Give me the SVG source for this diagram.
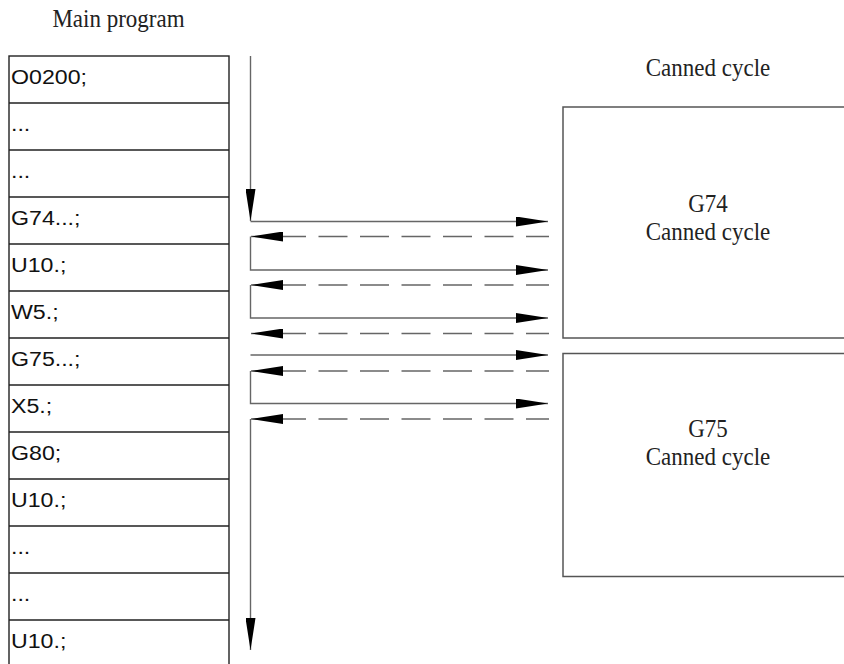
<svg xmlns="http://www.w3.org/2000/svg" width="844" height="664" viewBox="0 0 844 664">
<style>
.bg{fill:#ffffff}
.cell{fill:none;stroke:#222;stroke-width:1.4}
.box{fill:none;stroke:#555;stroke-width:1.5}
.ser{font-family:"Liberation Serif","Times New Roman",serif;font-size:25px;fill:#222;text-anchor:middle}
.code{font-family:"Liberation Sans",Arial,sans-serif;font-size:20.5px;fill:#111}
.ln{fill:none;stroke:#666;stroke-width:1.4}
.dash{stroke-dasharray:29 12.5;stroke-dashoffset:6}
</style>
<defs>
<marker id="ah" markerUnits="userSpaceOnUse" markerWidth="32" markerHeight="10" viewBox="0 0 32 10" refX="32" refY="5" orient="auto">
<path d="M0,0 L32,5 L0,10 Z" fill="#000" stroke="none"/>
</marker>
</defs>
<rect class="bg" x="0" y="0" width="844" height="664"/>
<text class="ser" transform="translate(118.5,26.5) scale(0.92,1)">Main program</text>
<text class="ser" transform="translate(708,76) scale(0.92,1)">Canned cycle</text>
<g id="main-program">
<rect class="cell" x="9" y="56" width="220" height="620"/>
<path class="cell" d="M9,103H229M9,150H229M9,197H229M9,244H229M9,291H229M9,338H229M9,385H229M9,432H229M9,479H229M9,526H229M9,573H229M9,620H229"/>
</g>
<g id="row-1"><text class="code" transform="translate(11,84) scale(1.13,1)">O0200;</text></g>
<g id="row-2"><text class="code" transform="translate(11,131) scale(1.13,1)">...</text></g>
<g id="row-3"><text class="code" transform="translate(11,178) scale(1.13,1)">...</text></g>
<g id="row-4"><text class="code" transform="translate(11,225) scale(1.13,1)">G74...;</text></g>
<g id="row-5"><text class="code" transform="translate(11,272) scale(1.13,1)">U10.;</text></g>
<g id="row-6"><text class="code" transform="translate(11,319) scale(1.13,1)">W5.;</text></g>
<g id="row-7"><text class="code" transform="translate(11,366) scale(1.13,1)">G75...;</text></g>
<g id="row-8"><text class="code" transform="translate(11,413) scale(1.13,1)">X5.;</text></g>
<g id="row-9"><text class="code" transform="translate(11,460) scale(1.13,1)">G80;</text></g>
<g id="row-10"><text class="code" transform="translate(11,507) scale(1.13,1)">U10.;</text></g>
<g id="row-11"><text class="code" transform="translate(11,554) scale(1.13,1)">...</text></g>
<g id="row-12"><text class="code" transform="translate(11,601) scale(1.13,1)">...</text></g>
<g id="row-13"><text class="code" transform="translate(11,648) scale(1.13,1)">U10.;</text></g>
<g id="g74-cycle">
<rect class="box" x="563" y="107" width="300" height="231"/>
<text class="ser" transform="translate(708,212) scale(0.92,1)">G74</text>
<text class="ser" transform="translate(708,240) scale(0.92,1)">Canned cycle</text>
</g>
<g id="g75-cycle">
<rect class="box" x="563" y="353.5" width="300" height="223"/>
<text class="ser" transform="translate(708,437) scale(0.92,1)">G75</text>
<text class="ser" transform="translate(708,465) scale(0.92,1)">Canned cycle</text>
</g>
<g id="connectors">
<path class="ln" d="M250.5,56V221" marker-end="url(#ah)"/>
<path class="ln" d="M250.5,221.5H548" marker-end="url(#ah)"/>
<path class="ln dash" d="M549,236.5H251" marker-end="url(#ah)"/>
<path class="ln" d="M250.5,236.5V270H548" marker-end="url(#ah)"/>
<path class="ln dash" d="M549,285H251" marker-end="url(#ah)"/>
<path class="ln" d="M250.5,285V318H548" marker-end="url(#ah)"/>
<path class="ln dash" d="M549,333.5H251" marker-end="url(#ah)"/>
<path class="ln" d="M250.5,355H548" marker-end="url(#ah)"/>
<path class="ln dash" d="M549,371H251" marker-end="url(#ah)"/>
<path class="ln" d="M250.5,371V403.5H548" marker-end="url(#ah)"/>
<path class="ln dash" d="M549,419H251" marker-end="url(#ah)"/>
<path class="ln" d="M250.5,419V650" marker-end="url(#ah)"/>
</g>
</svg>
